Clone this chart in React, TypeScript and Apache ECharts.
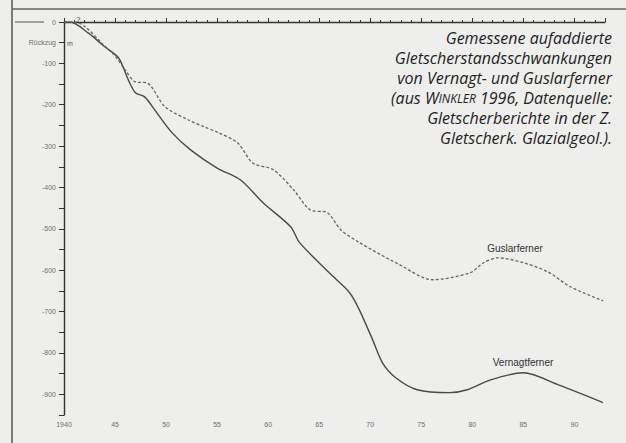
import React, { useEffect, useRef } from "react";
import * as echarts from "echarts";

const vernagtYears = [1940, 1940.6, 1942.4, 1944.0, 1945.3, 1945.8, 1946.3, 1947.0, 1947.9, 1948.9, 1950.6, 1952.4, 1955.0, 1957.3, 1959.5, 1962.2, 1963.1, 1966.4, 1968.0, 1968.9, 1970.2, 1971.2, 1972.5, 1974.6, 1977.8, 1979.5, 1981.8, 1985.0, 1988.5, 1992.8];
const vernagtValues = [0, 0, -27, -60, -85, -109, -140, -171, -181, -213, -268, -309, -353, -382, -437, -495, -534, -616, -655, -694, -766, -824, -860, -889, -896, -889, -865, -848, -878, -920];

const guslarYears = [1940, 1941.1, 1942.1, 1943.7, 1945.0, 1946.0, 1947.0, 1948.1, 1949.9, 1952.2, 1953.8, 1955.0, 1957.0, 1958.5, 1960.5, 1962.5, 1964.1, 1965.8, 1967.1, 1969.0, 1972.9, 1976.1, 1979.8, 1981.1, 1982.5, 1985.0, 1987.4, 1989.6, 1992.8];
const guslarValues = [0, 0, -12, -51, -82, -116, -145, -147, -205, -237, -254, -266, -292, -341, -357, -406, -454, -461, -502, -534, -587, -623, -606, -582, -570, -582, -604, -640, -674];

const titleLines = [
  "Gemessene aufaddierte",
  "Gletscherstandsschwankungen",
  "von Vernagt- und Guslarferner",
  "(aus {sc|W}{scs|INKLER} 1996, Datenquelle:",
  "Gletscherberichte in der Z.",
  "Gletscherk. Glazialgeol.).",
];

const yearMin = 1940;
const yearMax = 1993;
const valueMin = -950;
const valueMax = 0;

export default function App() {
  const ref = useRef<HTMLDivElement>(null);
  useEffect(() => {
    if (!ref.current) return;
    const chart = echarts.init(ref.current, null, { renderer: "svg" });
    const ink = "#4a4a4a";
    const labelStyle = { color: "#707070", fontSize: 7, fontFamily: "Liberation Sans, Arial, sans-serif" };
    chart.setOption({
      animation: false,
      backgroundColor: "#eeeeec",
      grid: { left: 64, top: 22, width: 541, height: 393 },
      xAxis: {
        type: "value",
        min: yearMin,
        max: yearMax,
        interval: 5,
        splitLine: { show: false },
        axisLine: { lineStyle: { color: "#333", width: 1.4 } },
        axisTick: { inside: true, length: 4, lineStyle: { color: "#333" } },
        minorTick: { show: true, splitNumber: 5, length: 2, lineStyle: { color: "#333" } },
        axisLabel: {
          ...labelStyle,
          margin: 6,
          showMaxLabel: false,
          formatter: (v: number) => (v === 1940 ? "1940" : String(v % 100).padStart(2, "0")),
        },
      },
      yAxis: {
        type: "value",
        min: valueMin,
        max: valueMax,
        interval: 50,
        splitLine: { show: false },
        axisLine: { lineStyle: { color: "#333", width: 1.4 } },
        axisTick: { length: 5, lineStyle: { color: "#333" } },
        axisLabel: {
          ...labelStyle,
          margin: 8,
          formatter: (v: number) => {
            if (v === -50) return "Rückzug";
            if (v === -950) return "";
            return v % 100 === 0 ? String(v) : "";
          },
        },
      },
      series: [
        {
          name: "Vernagtferner",
          type: "line",
          data: vernagtYears.map((y, i) => [y, vernagtValues[i]]),
          smooth: 0.3,
          symbol: "none",
          lineStyle: { color: ink, width: 1.4 },
        },
        {
          name: "Guslarferner",
          type: "line",
          data: guslarYears.map((y, i) => [y, guslarValues[i]]),
          smooth: 0.3,
          symbol: "none",
          lineStyle: { color: "#666", width: 1.3, type: [3, 2] },
        },
      ],
      graphic: [
        { type: "line", shape: { x1: 12, y1: 0, x2: 12, y2: 443 }, style: { stroke: "#555", lineWidth: 1.5 } },
        { type: "line", shape: { x1: 12, y1: 9, x2: 626, y2: 9 }, style: { stroke: "#666", lineWidth: 1.5 } },
        { type: "line", shape: { x1: 15, y1: 22, x2: 44, y2: 22 }, style: { stroke: "#555", lineWidth: 1 } },
        { type: "text", x: 67, y: 43, style: { text: "m", fontSize: 7, fill: "#555", verticalAlign: "middle", fontFamily: "Liberation Sans, Arial, sans-serif" } },
        { type: "text", x: 76, y: 19, style: { text: "?", fontSize: 8, fill: "#555", verticalAlign: "middle", fontFamily: "Liberation Sans, Arial, sans-serif" } },
        { type: "text", x: 515, y: 248, style: { text: "Guslarferner", fontSize: 10, fill: "#333", align: "center", verticalAlign: "middle", fontFamily: "Liberation Sans, Arial, sans-serif" } },
        { type: "text", x: 523, y: 362, style: { text: "Vernagtferner", fontSize: 10, fill: "#333", align: "center", verticalAlign: "middle", fontFamily: "Liberation Sans, Arial, sans-serif" } },
        ...titleLines.map((t, i) => ({
          type: "text",
          x: 612,
          y: 38 + i * 20,
          style: {
            text: t,
            align: "right",
            verticalAlign: "middle",
            fontSize: 16,
            fontStyle: "italic",
            fontFamily: "Open Sans, sans-serif",
            fill: "#1e1e1e",
            rich: {
              sc: { fontSize: 16, fontStyle: "italic", fontFamily: "Open Sans, sans-serif", fill: "#1e1e1e" },
              scs: { fontSize: 12, fontStyle: "italic", fontFamily: "Open Sans, sans-serif", fill: "#1e1e1e" },
            },
          },
        })),
      ],
    });
    return () => chart.dispose();
  }, []);
  return <div ref={ref} style={{ width: 626, height: 443, position: "absolute", left: 0, top: 0 }} />;
}
